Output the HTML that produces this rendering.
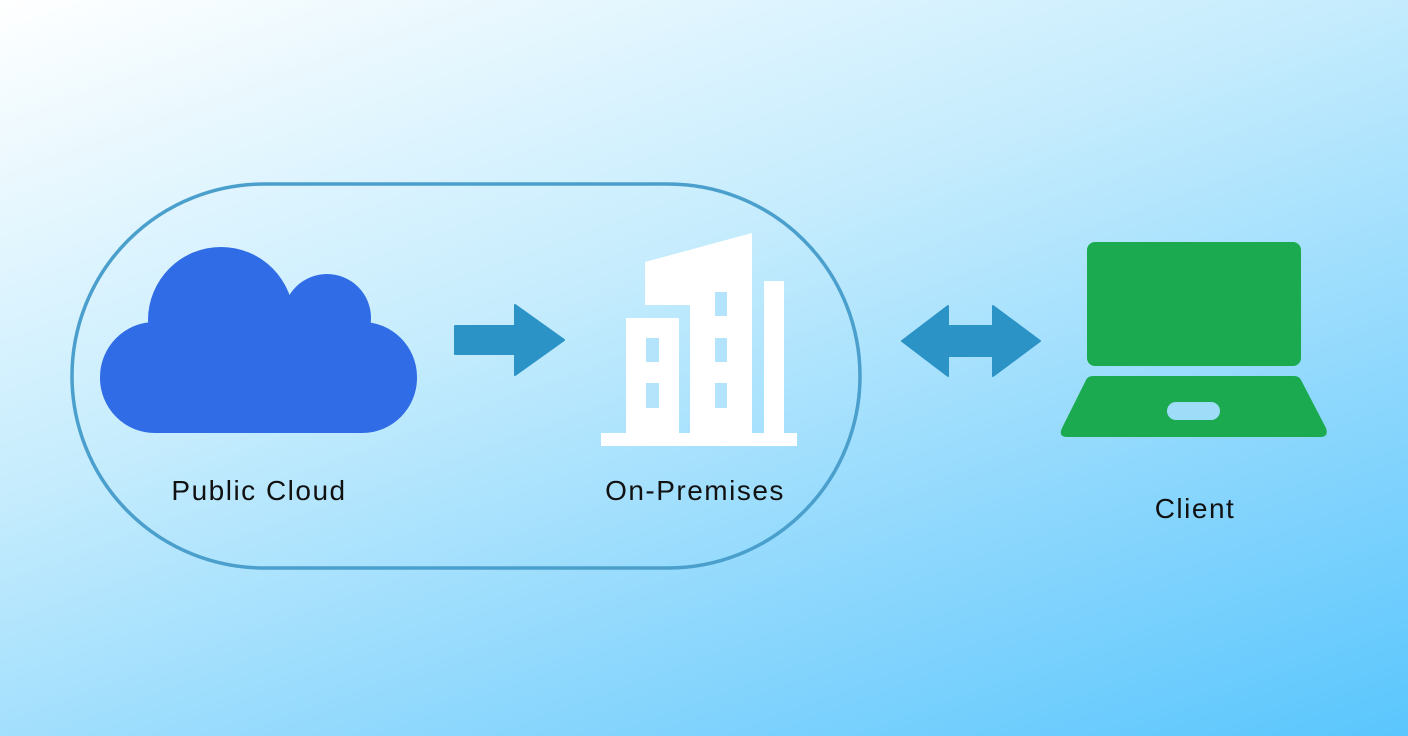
<!DOCTYPE html>
<html><head><meta charset="utf-8"><style>
html,body{margin:0;padding:0}
body{width:1408px;height:736px;overflow:hidden;background:linear-gradient(160deg,#ffffff 0%,#c5ecfd 40%,#8fd8fd 70%,#5ac6fd 100%);font-family:"Liberation Sans",sans-serif;position:relative}
.t{position:absolute;font-size:28px;letter-spacing:1.5px;color:#111;transform:translateX(-50%);white-space:nowrap}
</style></head><body>
<svg width="1408" height="736" style="position:absolute;left:0;top:0">
<rect x="72" y="184" width="788" height="384" rx="192" fill="none" stroke="#4a9fcc" stroke-width="3.5"/>
<g fill="#306ce6">
<circle cx="221" cy="320" r="73"/>
<circle cx="327" cy="318" r="44"/>
<rect x="100" y="322" width="317" height="111" rx="55"/>
</g>
<polygon points="455,326 515,326 515,305 564,340 515,375 515,354 455,354" fill="#2b93c6" stroke="#2b93c6" stroke-width="2" stroke-linejoin="round"/>
<polygon points="902,341 948,306 948,326 993,326 993,306 1040,341 993,376 993,356 948,356 948,376" fill="#2b93c6" stroke="#2b93c6" stroke-width="2" stroke-linejoin="round"/>
<g fill="#fff">
<polygon points="645,262 752,233 752,440 690,440 690,305 645,305"/>
<rect x="626" y="318" width="53" height="122"/>
<rect x="764" y="281" width="20" height="159"/>
<rect x="601" y="433" width="196" height="13"/>
</g>
<g fill="#b3e4fb">
<rect x="646" y="338" width="13" height="24"/><rect x="646" y="383" width="13" height="25"/>
<rect x="715" y="292" width="12" height="24"/><rect x="715" y="338" width="12" height="24"/><rect x="715" y="383" width="12" height="25"/>
</g>
<rect x="1087" y="242" width="214" height="124" rx="8" fill="#1caa50"/>
<path d="M1093,376 L1294,376 Q1299,376 1301,380 L1326,428 Q1329,437 1320,437 L1067,437 Q1058,437 1062,428 L1086,380 Q1088,376 1093,376 Z" fill="#1caa50"/>
<rect x="1167" y="402" width="53" height="18" rx="9" fill="#9fdcf8"/>
</svg>
<div class="t" style="left:259px;top:475px">Public Cloud</div>
<div class="t" style="left:695px;top:475px">On-Premises</div>
<div class="t" style="left:1195px;top:493px">Client</div>
</body></html>
